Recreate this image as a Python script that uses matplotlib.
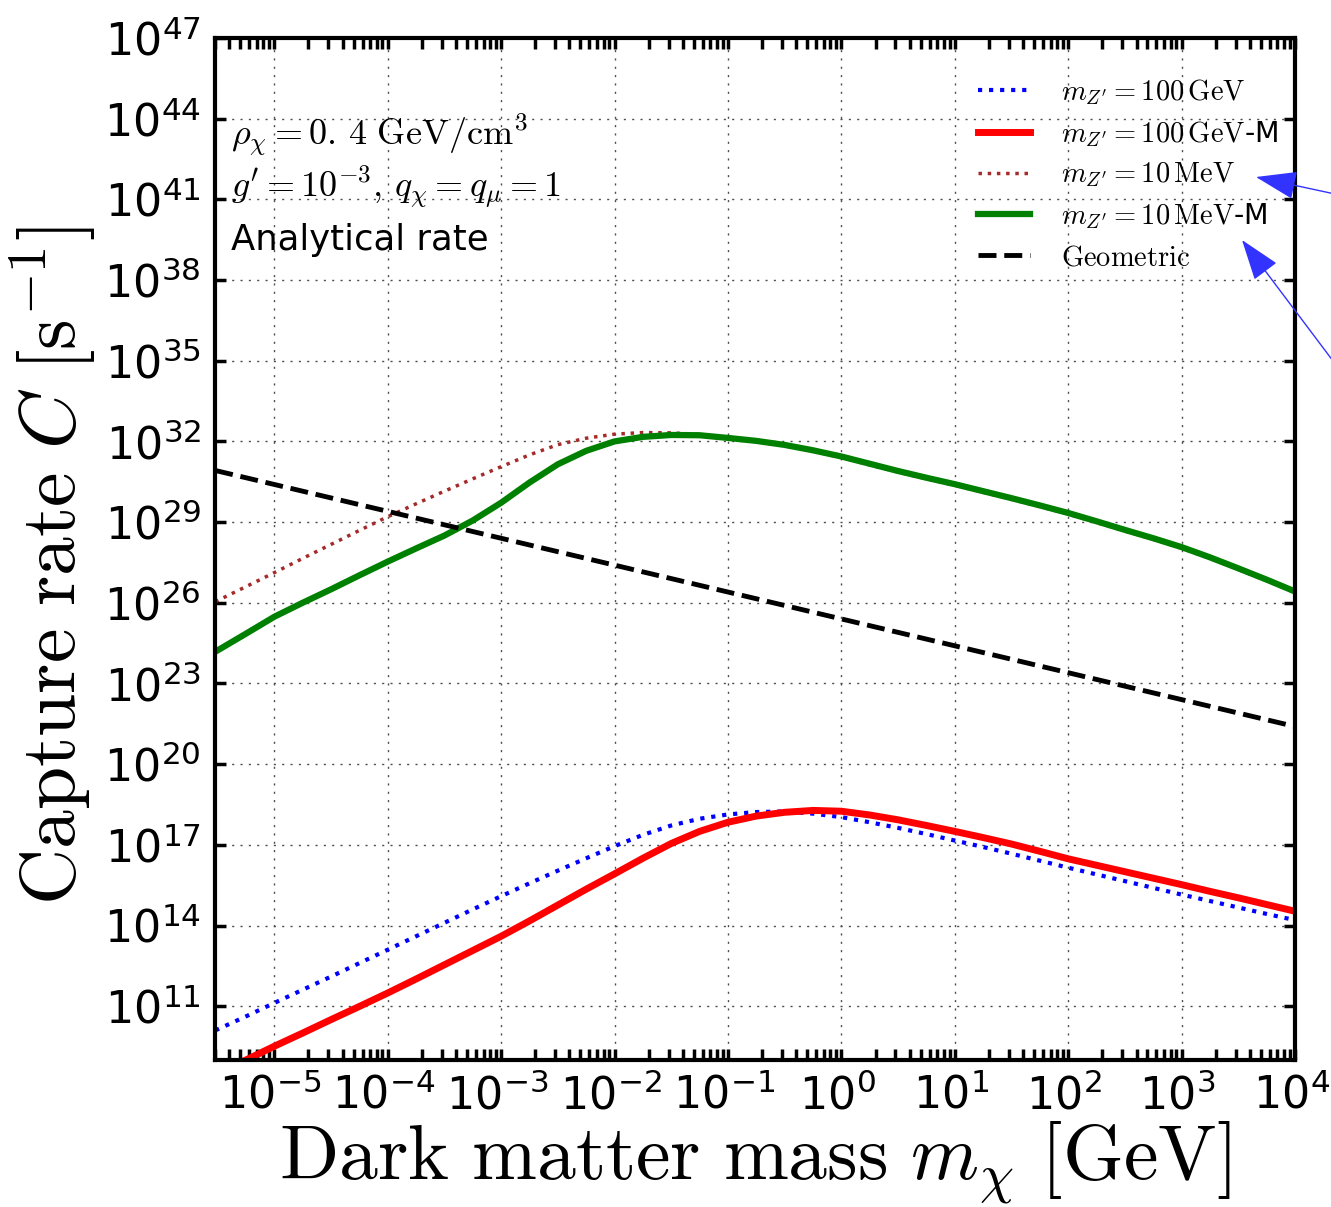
import numpy as np
import matplotlib
matplotlib.use("Agg")
import matplotlib.pyplot as plt
from matplotlib.transforms import ScaledTranslation
from matplotlib.ticker import FixedLocator, LogFormatterMathtext, NullFormatter

plt.rcParams["mathtext.fontset"] = "cm"
plt.rcParams["font.family"] = "DejaVu Sans"

# log10 of dark matter mass [GeV]
log_mass = [-5.52, -5.25, -5.0, -4.75, -4.5, -4.25, -4.0, -3.75, -3.5, -3.25,
            -3.0, -2.75, -2.5, -2.25, -2.0, -1.75, -1.5, -1.25, -1.0, -0.75,
            -0.5, -0.25, 0.0, 0.25, 0.5, 0.75, 1.0, 1.25, 1.5, 1.75, 2.0, 2.25,
            2.5, 2.75, 3.0, 3.25, 3.5, 3.75, 4.0]

# log10 of capture rate [1/s]
log_c_100gev = [10.1, 10.62, 11.12, 11.61, 12.1, 12.6, 13.1, 13.6, 14.1, 14.6,
                15.09, 15.57, 16.04, 16.5, 16.95, 17.37, 17.72, 17.97, 18.13, 18.22,
                18.24, 18.16, 18.03, 17.84, 17.63, 17.4, 17.16, 16.92, 16.67, 16.41,
                16.15, 15.9, 15.65, 15.4, 15.15, 14.91, 14.67, 14.43, 14.2]
log_c_100gev_m = [8.5, 9.0, 9.51, 10.0, 10.5, 10.99, 11.49, 12.01, 12.54, 13.07,
                  13.6, 14.17, 14.76, 15.35, 15.92, 16.5, 17.05, 17.5, 17.84, 18.07,
                  18.21, 18.28, 18.25, 18.11, 17.93, 17.72, 17.5, 17.27, 17.03, 16.76,
                  16.48, 16.24, 16.0, 15.76, 15.52, 15.27, 15.03, 14.78, 14.53]
log_c_10mev = [26.04, 26.6, 27.12, 27.65, 28.17, 28.69, 29.2, 29.68, 30.15, 30.61,
               31.06, 31.5, 31.88, 32.12, 32.27, 32.33, 32.32, 32.26, 32.12, 31.99,
               31.84, 31.64, 31.4, 31.13, 30.86, 30.61, 30.37, 30.11, 29.85, 29.58,
               29.3, 28.99, 28.67, 28.36, 28.03, 27.65, 27.24, 26.82, 26.38]
log_c_10mev_m = [24.18, 24.85, 25.48, 26.0, 26.5, 27.02, 27.53, 28.02, 28.5, 29.06,
                 29.72, 30.47, 31.15, 31.65, 32.0, 32.17, 32.24, 32.23, 32.13, 32.02,
                 31.87, 31.67, 31.44, 31.17, 30.9, 30.65, 30.41, 30.15, 29.89, 29.62,
                 29.34, 29.03, 28.71, 28.4, 28.07, 27.69, 27.28, 26.86, 26.42]

# geometric limit (straight line on log-log)
log_mass_geo = [-5.52, 4.0]
log_c_geo = [30.92, 21.4]

# tick decades
x_decades = [-5, -4, -3, -2, -1, 0, 1, 2, 3, 4]
y_decades = [11, 14, 17, 20, 23, 26, 29, 32, 35, 38, 41, 44, 47]

mass = 10.0 ** np.array(log_mass)
mass_geo = 10.0 ** np.array(log_mass_geo)

fig = plt.figure(figsize=(13.31, 12.07), dpi=100)
ax = fig.add_axes([0.1615, 0.1218, 0.8115, 0.8467])

ax.plot(mass, 10.0 ** np.array(log_c_100gev), color="blue", ls=":", lw=3,
        label=r"$m_{Z'}=100\,\mathrm{GeV}$")
ax.plot(mass, 10.0 ** np.array(log_c_100gev_m), color="red", ls="-", lw=5,
        label=r"$m_{Z'}=100\,\mathrm{GeV}$-M")
ax.plot(mass, 10.0 ** np.array(log_c_10mev), color="brown", ls=":", lw=2.5,
        label=r"$m_{Z'}=10\,\mathrm{MeV}$")
ax.plot(mass, 10.0 ** np.array(log_c_10mev_m), color="green", ls="-", lw=4.5,
        label=r"$m_{Z'}=10\,\mathrm{MeV}$-M")
ax.plot(mass_geo, 10.0 ** np.array(log_c_geo), color="black", ls="--", lw=3.5,
        label=r"$\mathrm{Geometric}$")

ax.set_xscale("log")
ax.set_yscale("log")
ax.set_xlim(3e-6, 1e4)
ax.set_ylim(1e9, 1e47)

x_major = 10.0 ** np.array(x_decades, dtype=float)
x_minor = [m * 10.0 ** d for d in [-6] + x_decades[:-1] for m in range(2, 10)]
ax.xaxis.set_major_locator(FixedLocator(x_major))
ax.xaxis.set_major_formatter(LogFormatterMathtext())
ax.xaxis.set_minor_locator(FixedLocator(x_minor))
ax.xaxis.set_minor_formatter(NullFormatter())
ax.yaxis.set_major_locator(FixedLocator(10.0 ** np.array(y_decades, dtype=float)))
ax.yaxis.set_major_formatter(LogFormatterMathtext())
ax.yaxis.set_minor_locator(FixedLocator([]))

ax.tick_params(which="both", direction="in", top=True, right=True, width=2.5)
ax.tick_params(which="major", length=8, labelsize=32, pad=10)
ax.tick_params(which="minor", length=8)
for s in ax.spines.values():
    s.set_linewidth(3)

# x tick labels sit a little left of their ticks in the original
shift = ScaledTranslation(-4 / 100, 0, fig.dpi_scale_trans)
for tick in ax.xaxis.get_major_ticks():
    tick.label1.set_transform(tick.label1.get_transform() + shift)

ax.grid(True, which="major", color="0.3", ls=(0, (1.5, 4.5)), lw=1)

ax.set_xlabel(r"$\mathrm{Dark\ matter\ mass}\ m_{\chi}\ [\mathrm{GeV}]$", fontsize=56,
              labelpad=1)
ax.set_ylabel(r"$\mathrm{Capture\ rate}\ C\ [\mathrm{s}^{-1}]$", fontsize=56)
ax.yaxis.set_label_coords(-0.107, 0.484)

ax.text(0.015, 0.895, r"$\rho_{\chi}=0.\,4\ \mathrm{GeV/cm}^{3}$", transform=ax.transAxes,
        fontsize=26)
ax.text(0.015, 0.845, r"$g^{\prime}=10^{-3},\,q_{\chi}=q_{\mu}=1$", transform=ax.transAxes,
        fontsize=26)
ax.text(0.015, 0.793, "Analytical rate", transform=ax.transAxes, fontsize=25.5)

ax.legend(loc="upper right", frameon=False, fontsize=20.5, handlelength=1.8,
          handletextpad=1.1, labelspacing=0.42, bbox_to_anchor=(1.008, 0.987))

# arrows coming in from the right, pointing at the legend
arrow_kw = dict(arrowstyle="-|>,head_length=1.3,head_width=0.45", color="#3333ff",
                lw=1, mutation_scale=20, shrinkA=0, shrinkB=0)
ax.annotate("", xy=(1256, 1030), xycoords="figure pixels", xytext=(1400, 999),
            textcoords="figure pixels", arrowprops=arrow_kw, annotation_clip=False)
ax.annotate("", xy=(1242, 967), xycoords="figure pixels", xytext=(1400, 757),
            textcoords="figure pixels", arrowprops=arrow_kw, annotation_clip=False)

fig.savefig("out.png", dpi=100)
